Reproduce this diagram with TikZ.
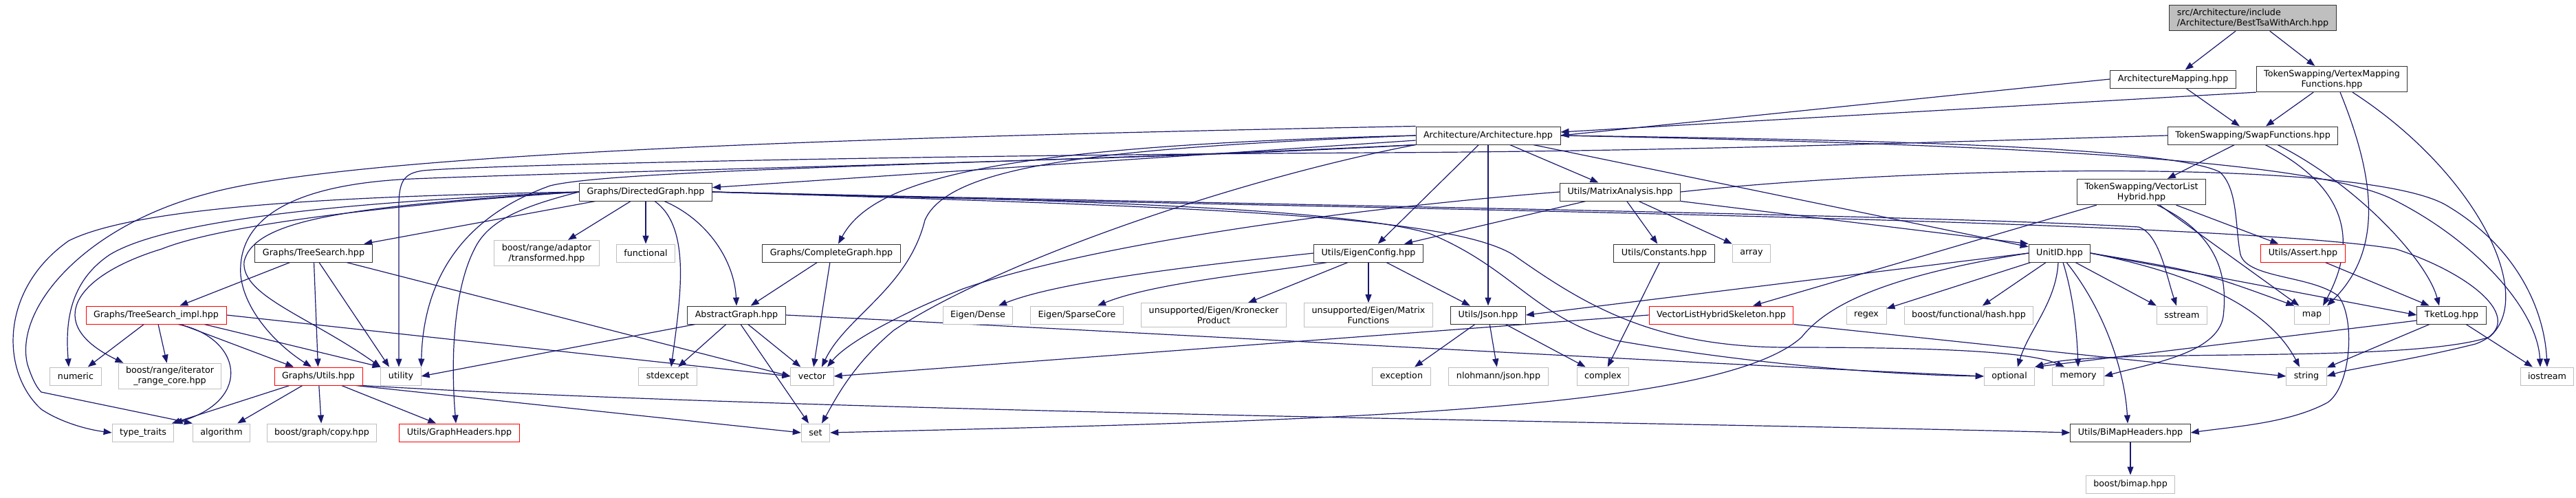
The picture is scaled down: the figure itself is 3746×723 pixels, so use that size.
\documentclass[tikz,border=0pt]{standalone}
\usepackage{fontspec}
\setmainfont{DejaVu Sans}
\usetikzlibrary{arrows.meta,backgrounds}
\definecolor{incblue}{HTML}{191970}
\definecolor{sysgray}{HTML}{BFBFBF}

\begin{document}
\begin{tikzpicture}[x=1pt, y=-1pt,
    hdr/.style={draw=black!80, line width=1pt, fill=white, inner xsep=11pt, inner ysep=5pt,
      minimum height=26pt, align=center, font=\fontsize{12.7}{15}\selectfont},
    syshdr/.style={hdr, draw=sysgray},
    redhdr/.style={hdr, draw=red},
    inc/.style={incblue, line width=1.2pt, -{Triangle[length=12pt, width=9pt]}}]
    \useasboundingbox (0,0) rectangle (3746,723);

    % Nodes
    \node[hdr, fill=sysgray, align=left] (root) at (3276,26) {src/Architecture/include\\/Architecture/BestTsaWithArch.hpp};
    \node[hdr] (archmap) at (3160,115) {ArchitectureMapping.hpp};
    \node[hdr] (vmf) at (3391,115) {TokenSwapping/VertexMapping\\Functions.hpp};
    \node[hdr] (arch) at (2164,197) {Architecture/Architecture.hpp};
    \node[hdr] (swapf) at (3276,197) {TokenSwapping/SwapFunctions.hpp};
    \node[hdr] (dgraph) at (939,279) {Graphs/DirectedGraph.hpp};
    \node[hdr] (matrix) at (2356,279) {Utils/MatrixAnalysis.hpp};
    \node[hdr] (vlh) at (3114,279) {TokenSwapping/VectorList\\Hybrid.hpp};
    \node[hdr] (tsearch) at (456,368) {Graphs/TreeSearch.hpp};
    \node[syshdr] (transf) at (795,368) {boost/range/adaptor\\/transformed.hpp};
    \node[syshdr] (functional) at (939,368) {functional};
    \node[hdr] (complete) at (1209,368) {Graphs/CompleteGraph.hpp};
    \node[hdr] (eigencfg) at (1990,368) {Utils/EigenConfig.hpp};
    \node[hdr] (constants) at (2420,368) {Utils/Constants.hpp};
    \node[syshdr] (array) at (2547,368) {array};
    \node[hdr] (unitid) at (2995,368) {UnitID.hpp};
    \node[redhdr] (assert) at (3349,368) {Utils/Assert.hpp};
    \node[redhdr] (tsimpl) at (227,458) {Graphs/TreeSearch\_impl.hpp};
    \node[hdr] (abstract) at (1071,458) {AbstractGraph.hpp};
    \node[syshdr] (dense) at (1422,458) {Eigen/Dense};
    \node[syshdr] (sparse) at (1566,458) {Eigen/SparseCore};
    \node[syshdr] (kron) at (1765,458) {unsupported/Eigen/Kronecker\\Product};
    \node[syshdr] (mfunc) at (1990,458) {unsupported/Eigen/Matrix\\Functions};
    \node[hdr] (json) at (2164,458) {Utils/Json.hpp};
    \node[redhdr] (skeleton) at (2503,458) {VectorListHybridSkeleton.hpp};
    \node[syshdr] (regex) at (2714,458) {regex};
    \node[syshdr] (hash) at (2863,458) {boost/functional/hash.hpp};
    \node[syshdr] (sstream) at (3173,458) {sstream};
    \node[syshdr] (map) at (3362,458) {map};
    \node[hdr] (tketlog) at (3565,458) {TketLog.hpp};
    \node[syshdr] (numeric) at (110,547) {numeric};
    \node[syshdr] (rangecore) at (247,547) {boost/range/iterator\\\_range\_core.hpp};
    \node[redhdr] (gutils) at (463,547) {Graphs/Utils.hpp};
    \node[syshdr] (utility) at (583,547) {utility};
    \node[syshdr] (stdexcept) at (971,547) {stdexcept};
    \node[syshdr] (vector) at (1181,547) {vector};
    \node[syshdr] (exception) at (2038,547) {exception};
    \node[syshdr] (nlohmann) at (2179,547) {nlohmann/json.hpp};
    \node[syshdr] (complex) at (2331,547) {complex};
    \node[syshdr] (optional) at (2922,547) {optional};
    \node[syshdr] (memory) at (3022,547) {memory};
    \node[syshdr] (string) at (3354,547) {string};
    \node[syshdr] (iostream) at (3704,547) {iostream};
    \node[syshdr] (typetraits) at (208,629) {type\_traits};
    \node[syshdr] (algorithm) at (322,629) {algorithm};
    \node[syshdr] (copy) at (468,629) {boost/graph/copy.hpp};
    \node[redhdr] (gheaders) at (668,629) {Utils/GraphHeaders.hpp};
    \node[syshdr] (set) at (1186,629) {set};
    \node[hdr] (bimaphdr) at (3098,629) {Utils/BiMapHeaders.hpp};
    \node[syshdr] (bimap) at (3098,704) {boost/bimap.hpp};

    \begin{scope}[on background layer]
    % Top of the graph
    \draw[inc] (root) -- (archmap);
    \draw[inc] (root) -- (vmf);
    \draw[inc] (archmap.west) -- (arch.east);
    \draw[inc] (vmf.south west) -- ([yshift=5pt]arch.east);
    \draw[inc] (archmap) -- (swapf);
    \draw[inc] (vmf) -- (swapf);
    \draw[inc] ([xshift=12pt]vmf.south) .. controls (3450,250) and (3470,360) .. ([xshift=22pt]map.north);
    \draw[inc] ([xshift=30pt]vmf.south) .. controls (3600,250) and (3690,430) .. (3620,490) .. controls (3500,530) and (3050,505) .. (optional.north east);

    % Swap functions
    \draw[inc] (swapf) -- (vlh);
    \draw[inc] (swapf.west) .. controls (2700,210) and (2400,220) .. (2000,222) .. controls (1300,226) and (700,240) .. (615,248) .. controls (588,252) and (580,262) .. (580,300) -- ([xshift=-3pt]utility.north);
    \draw[inc] ([xshift=18pt]swapf.south) .. controls (3390,260) and (3440,330) .. ([xshift=16pt]map.north);
    \draw[inc] ([xshift=36pt]swapf.south) .. controls (3430,270) and (3530,380) .. ([xshift=-18pt]tketlog.north);

    % Vector list hybrid
    \draw[inc] (vlh) -- (skeleton);
    \draw[inc] (vlh) -- (assert);
    \draw[inc] (vlh) -- (map);
    \draw[inc] ([xshift=23pt]vlh.south) .. controls (3225,340) and (3240,400) .. (3233,460) .. controls (3225,515) and (3120,530) .. (memory.east);

    % Architecture
    \draw[inc] (arch) -- (dgraph);
    \draw[inc] (arch.west) .. controls (1450,212) and (1270,260) .. ([xshift=10pt]complete.north);
    \draw[inc] (arch) -- (eigencfg);
    \draw[inc] (arch) -- (json);
    \draw[inc] (arch) -- (matrix);
    \draw[inc] (arch) -- (unitid);
    \draw[inc] (arch.west) .. controls (1600,215) and (1380,240) .. (1345,320) .. controls (1320,420) and (1230,460) .. ([xshift=14pt]vector.north);
    \draw[inc] (arch.south west) .. controls (1800,260) and (1450,380) .. (1300,480) .. controls (1240,530) and (1215,580) .. ([xshift=9pt]set.north);
    \draw[inc] (arch.north west) .. controls (1200,200) and (500,225) .. (300,282) .. controls (120,330) and (20,450) .. (40,530) .. controls (48,555) and (55,565) .. (60,570) -- (algorithm.north west);
    \draw[inc] (arch.south west) .. controls (1700,232) and (900,248) .. (600,260) .. controls (420,268) and (345,320) .. (350,400) .. controls (355,450) and (400,500) .. ([xshift=-10pt]gutils.north);
    \draw[inc] (arch.south west) .. controls (1500,238) and (900,245) .. (800,270) .. controls (660,320) and (615,420) .. (utility.north east);
    \draw[inc] (arch.east) .. controls (2700,203) and (3150,212) .. (3228,250) .. controls (3255,275) and (3250,330) .. (3258,370) .. controls (3268,405) and (3360,400) .. (3400,430) .. controls (3425,460) and (3420,560) .. (3385,585) .. controls (3330,615) and (3250,620) .. (bimaphdr.east);
    \draw[inc] (arch.east) .. controls (2800,208) and (3350,225) .. (3480,290) .. controls (3600,350) and (3690,450) .. ([xshift=-10pt]iostream.north);

    % Directed graph
    \draw[inc] (dgraph) -- (tsearch);
    \draw[inc] (dgraph) -- (transf);
    \draw[inc] (dgraph) -- (functional);
    \draw[inc] ([xshift=27pt]dgraph.south) .. controls (1030,320) and (1068,380) .. (abstract.north);
    \draw[inc] ([xshift=13pt]dgraph.south) .. controls (1005,330) and (990,430) .. ([xshift=5pt]stdexcept.north);
    \draw[inc] (dgraph.west) .. controls (760,300) and (710,320) .. (690,362) .. controls (660,420) and (655,520) .. ([xshift=-5pt]gheaders.north);
    \draw[inc] (dgraph.west) .. controls (500,285) and (200,300) .. (100,350) .. controls (0,420) and (0,540) .. (60,595) .. controls (90,615) and (130,625) .. (typetraits.west);
    \draw[inc] (dgraph.west) .. controls (600,290) and (260,310) .. (160,370) .. controls (100,410) and (95,470) .. ([xshift=-10pt]numeric.north);
    \draw[inc] (dgraph.west) .. controls (650,292) and (340,320) .. (235,362) .. controls (110,400) and (60,470) .. ([xshift=8pt]rangecore.north west);
    \draw[inc] (dgraph.west) .. controls (500,300) and (370,320) .. (355,380) .. controls (350,430) and (450,460) .. (utility.north west);
    \draw[inc] (dgraph.east) .. controls (1700,295) and (2800,312) .. (3110,330) .. controls (3140,340) and (3150,400) .. ([xshift=-8pt]sstream.north);
    \draw[inc] (dgraph.east) .. controls (1700,300) and (3200,315) .. (3484,362) .. controls (3600,400) and (3680,470) .. (3600,500) .. controls (3500,525) and (3420,535) .. (string.east);
    \draw[inc] (dgraph.east) .. controls (1500,290) and (1950,300) .. (2080,340) .. controls (2200,390) and (2230,460) .. (2350,495) .. controls (2550,530) and (2750,545) .. (optional.west);
    \draw[inc] (dgraph.east) .. controls (1700,300) and (2100,310) .. (2200,370) .. controls (2300,440) and (2400,505) .. (2600,505) .. controls (2800,505) and (2950,510) .. ([xshift=-20pt]memory.north);

    % Tree search
    \draw[inc] (tsearch) -- (tsimpl);
    \draw[inc] (tsearch) -- (gutils);
    \draw[inc] ([xshift=8pt]tsearch.south) -- ([xshift=-17pt]utility.north);
    \draw[inc] ([xshift=48pt]tsearch.south) -- (vector.west);
    \draw[inc] (tsimpl) -- (numeric);
    \draw[inc] (tsimpl) -- (rangecore);
    \draw[inc] ([xshift=32pt]tsimpl.south) .. controls (350,490) and (370,580) .. (typetraits.north east);
    \draw[inc] (tsimpl) -- (gutils);
    \draw[inc] ([xshift=70pt]tsimpl.south) -- (utility.north west);
    \draw[inc] (tsimpl.east) -- (vector.west);

    % Graph utils
    \draw[inc] (gutils) -- (typetraits);
    \draw[inc] (gutils) -- (algorithm);
    \draw[inc] (gutils) -- (copy);
    \draw[inc] (gutils) -- (gheaders);
    \draw[inc] ([xshift=-10pt]gutils.south east) -- (set.west);
    \draw[inc] (gutils.south east) .. controls (1200,600) and (2500,615) .. (bimaphdr.west);

    % Abstract and complete graph
    \draw[inc] (abstract) -- (stdexcept);
    \draw[inc] (abstract) -- (vector);
    \draw[inc] ([xshift=6pt]abstract.south) -- ([xshift=-10pt]set.north);
    \draw[inc] ([xshift=-60pt]abstract.south) -- (utility.east);
    \draw[inc] (abstract.east) .. controls (1600,480) and (2400,525) .. (optional.west);
    \draw[inc] (complete) -- (abstract);
    \draw[inc] (complete) -- (vector);

    % Eigen config
    \draw[inc] (eigencfg.west) .. controls (1800,380) and (1550,405) .. ([xshift=30pt]dense.north);
    \draw[inc] ([xshift=-60pt]eigencfg.south) .. controls (1850,395) and (1680,410) .. ([xshift=30pt]sparse.north);
    \draw[inc] ([xshift=-30pt]eigencfg.south) -- ([xshift=50pt]kron.north);
    \draw[inc] (eigencfg) -- (mfunc);
    \draw[inc] (eigencfg) -- (json);

    % Matrix analysis
    \draw[inc] ([xshift=-50pt]matrix.south) -- ([xshift=52pt]eigencfg.north);
    \draw[inc] (matrix) -- (constants);
    \draw[inc] ([xshift=27pt]matrix.south) -- (array.north west);
    \draw[inc] (matrix.south east) -- (unitid.north west);
    \draw[inc] (matrix.west) .. controls (2000,300) and (1600,350) .. (1400,420) .. controls (1300,460) and (1230,500) .. ([xshift=22pt]vector.north);
    \draw[inc] (matrix.east) .. controls (2800,240) and (3450,230) .. (3560,300) .. controls (3660,360) and (3700,450) .. (iostream.north);

    % Json and constants
    \draw[inc] (constants) -- (complex);
    \draw[inc] (json) -- (exception);
    \draw[inc] (json) -- (nlohmann);
    \draw[inc] (json) -- (complex);

    % Unit ID
    \draw[inc] (unitid.west) -- (json.east);
    \draw[inc] (unitid.west) .. controls (2750,400) and (2660,440) .. (2620,490) .. controls (2500,600) and (1900,612) .. (set.east);
    \draw[inc] (unitid) -- (regex);
    \draw[inc] (unitid) -- (hash);
    \draw[inc] ([xshift=-2pt]unitid.south) .. controls (2990,440) and (2950,480) .. ([xshift=12pt]optional.north);
    \draw[inc] ([xshift=5pt]unitid.south) .. controls (3015,430) and (3020,480) .. (memory.north);
    \draw[inc] ([xshift=10pt]unitid.south) .. controls (3060,450) and (3090,540) .. ([xshift=-4pt]bimaphdr.north);
    \draw[inc] ([xshift=23pt]unitid.south) -- (sstream.north west);
    \draw[inc] (unitid.east) .. controls (3200,395) .. (map.north west);
    \draw[inc] (unitid.east) -- (tketlog.west);
    \draw[inc] (unitid.east) .. controls (3200,400) and (3300,450) .. ([xshift=-10pt]string.north);

    % Skeleton, assert, log, bimap
    \draw[inc] (skeleton.west) -- (vector.east);
    \draw[inc] (skeleton.south east) -- (string.west);
    \draw[inc] (assert) -- (tketlog);
    \draw[inc] (tketlog) -- (string);
    \draw[inc] (tketlog) -- (iostream);
    \draw[inc] ([yshift=-8pt]tketlog.west) -- (optional.north east);
    \draw[inc] (bimaphdr) -- (bimap);
    \end{scope}
\end{tikzpicture}
\end{document}
